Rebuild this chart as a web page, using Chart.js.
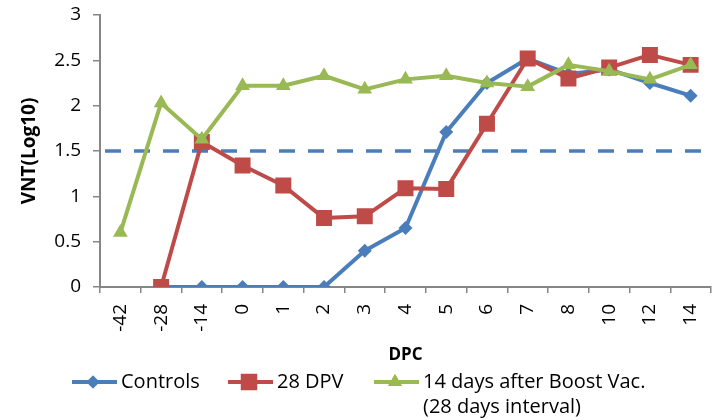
<!DOCTYPE html>
<html>
<head>
<meta charset="utf-8">
<script src="https://cdn.jsdelivr.net/npm/chart.js@4.4.1/dist/chart.umd.min.js"></script>
<style>
  html, body { margin: 0; padding: 0; background: #ffffff; }
  #wrap { position: relative; width: 712px; height: 420px; }
</style>
</head>
<body>
<div id="wrap"><canvas id="chart" width="712" height="420"></canvas></div>
<script>
// Days post challenge (category axis)
const dpcLabels = ['-42', '-28', '-14', '0', '1', '2', '3', '4', '5', '6', '7', '8', '10', '12', '14'];

// Virus neutralization titres, log10
const controls = [null, 0, 0, 0, 0, 0, 0.4, 0.65, 1.71, 2.25, 2.52, 2.35, 2.4, 2.25, 2.11];
const dpv28 = [null, 0, 1.6, 1.34, 1.12, 0.76, 0.78, 1.09, 1.08, 1.8, 2.52, 2.3, 2.42, 2.56, 2.45];
const boost14 = [0.6, 2.03, 1.63, 2.22, 2.22, 2.33, 2.18, 2.29, 2.33, 2.25, 2.21, 2.45, 2.38, 2.29, 2.45];

// Protective threshold
const threshold = 1.5;

const seriesNames = ['Controls', '28 DPV', ['14 days after Boost Vac.', '(28 days interval)']];
const BLUE = '#4A7EBB', RED = '#BE4B48', GREEN = '#98B954';
const FONT = "'Open Sans', 'Noto Sans', sans-serif";

const thresholdLine = {
  id: 'thresholdLine',
  beforeDatasetsDraw(chart) {
    const { ctx, chartArea, scales } = chart;
    const y = scales.y.getPixelForValue(threshold);
    ctx.save();
    ctx.strokeStyle = BLUE;
    ctx.lineWidth = 3.5;
    ctx.setLineDash([16, 13]);
    ctx.beginPath();
    ctx.moveTo(chartArea.left + 5, y);
    ctx.lineTo(chartArea.right - 5, y);
    ctx.stroke();
    ctx.restore();
  }
};

// Legend drawn under the axis title, with a two-line entry for the last series
const bottomLegend = {
  id: 'bottomLegend',
  afterDraw(chart) {
    const { ctx } = chart;
    const items = [
      { x: 72, ds: chart.data.datasets[0] },
      { x: 228, ds: chart.data.datasets[1] },
      { x: 374, ds: chart.data.datasets[2] }
    ];
    const y = 382;
    ctx.save();
    ctx.font = '20px ' + FONT;
    ctx.textBaseline = 'middle';
    ctx.textAlign = 'left';
    items.forEach((it, i) => {
      const ds = it.ds;
      ctx.strokeStyle = ds.borderColor;
      ctx.lineWidth = 4;
      ctx.setLineDash([]);
      ctx.beginPath();
      ctx.moveTo(it.x, y);
      ctx.lineTo(it.x + 45, y);
      ctx.stroke();
      ctx.fillStyle = ds.pointBackgroundColor;
      Chart.helpers.drawPoint(ctx, {
        pointStyle: ds.pointStyle,
        radius: ds.legendRadius,
        borderWidth: 0,
        rotation: 0
      }, it.x + 21, y);
      ctx.fill();
      ctx.fillStyle = '#000000';
      const name = seriesNames[i];
      const lines = Array.isArray(name) ? name : [name];
      lines.forEach((t, k) => ctx.fillText(t, it.x + 49, y + k * 25));
    });
    ctx.restore();
  }
};

const axisColor = '#868686';

new Chart(document.getElementById('chart'), {
  type: 'line',
  data: {
    labels: dpcLabels,
    datasets: [
      {
        label: 'Controls', data: controls, order: 2,
        borderColor: BLUE, backgroundColor: BLUE, pointBackgroundColor: BLUE,
        borderWidth: 4, pointStyle: 'rectRot', pointRadius: 7, pointBorderWidth: 0,
        legendRadius: 6.5
      },
      {
        label: '28 DPV', data: dpv28, order: 1,
        borderColor: RED, backgroundColor: RED, pointBackgroundColor: RED,
        borderWidth: 4, pointStyle: 'rect', pointRadius: 11.3, pointBorderWidth: 0,
        legendRadius: 11.5
      },
      {
        label: '14 days after Boost Vac. (28 days interval)', data: boost14, order: 0,
        borderColor: GREEN, backgroundColor: GREEN, pointBackgroundColor: GREEN,
        borderWidth: 4, pointStyle: 'triangle', pointRadius: 8.5, pointBorderWidth: 0,
        legendRadius: 8
      }
    ]
  },
  options: {
    responsive: false,
    animation: false,
    spanGaps: false,
    layout: { autoPadding: false, padding: { top: 15, right: 1, left: 0, bottom: 55 } },
    elements: { line: { tension: 0, borderCapStyle: 'round', borderJoinStyle: 'round' } },
    plugins: { legend: { display: false }, tooltip: { enabled: false } },
    scales: {
      x: {
        type: 'category',
        offset: true,
        grid: {
          offset: true, drawOnChartArea: false, drawTicks: true,
          tickLength: 6, color: axisColor, lineWidth: 1.5
        },
        border: { display: true, color: axisColor, width: 2 },
        ticks: {
          minRotation: 90, maxRotation: 90, autoSkip: false, padding: 11,
          color: '#000000', font: { family: FONT, size: 19 }
        },
        title: {
          display: true, text: 'DPC', color: '#000000',
          font: { family: FONT, size: 17, weight: 'bold' }, padding: { top: 4, bottom: 0 }
        },
        afterFit(scale) {
          scale.height = 78;
          scale.paddingLeft = 0;
          scale.paddingRight = 0;
        }
      },
      y: {
        min: 0, max: 3,
        grid: {
          drawOnChartArea: false, drawTicks: true, tickLength: 7,
          color: axisColor, lineWidth: 1.5
        },
        border: { display: true, color: axisColor, width: 2 },
        ticks: {
          stepSize: 0.5, padding: 12, color: '#000000',
          font: { family: FONT, size: 19 },
          callback: v => String(v)
        },
        title: {
          display: true, text: 'VNT(Log10)', color: '#000000',
          font: { family: FONT, size: 19, weight: 'bold' }, padding: { top: 18, bottom: 0 }
        },
        afterFit(scale) {
          scale.width = 100;
          scale.paddingTop = 0;
          scale.paddingBottom = 0;
        }
      }
    }
  },
  plugins: [thresholdLine, bottomLegend]
});
</script>
</body>
</html>
